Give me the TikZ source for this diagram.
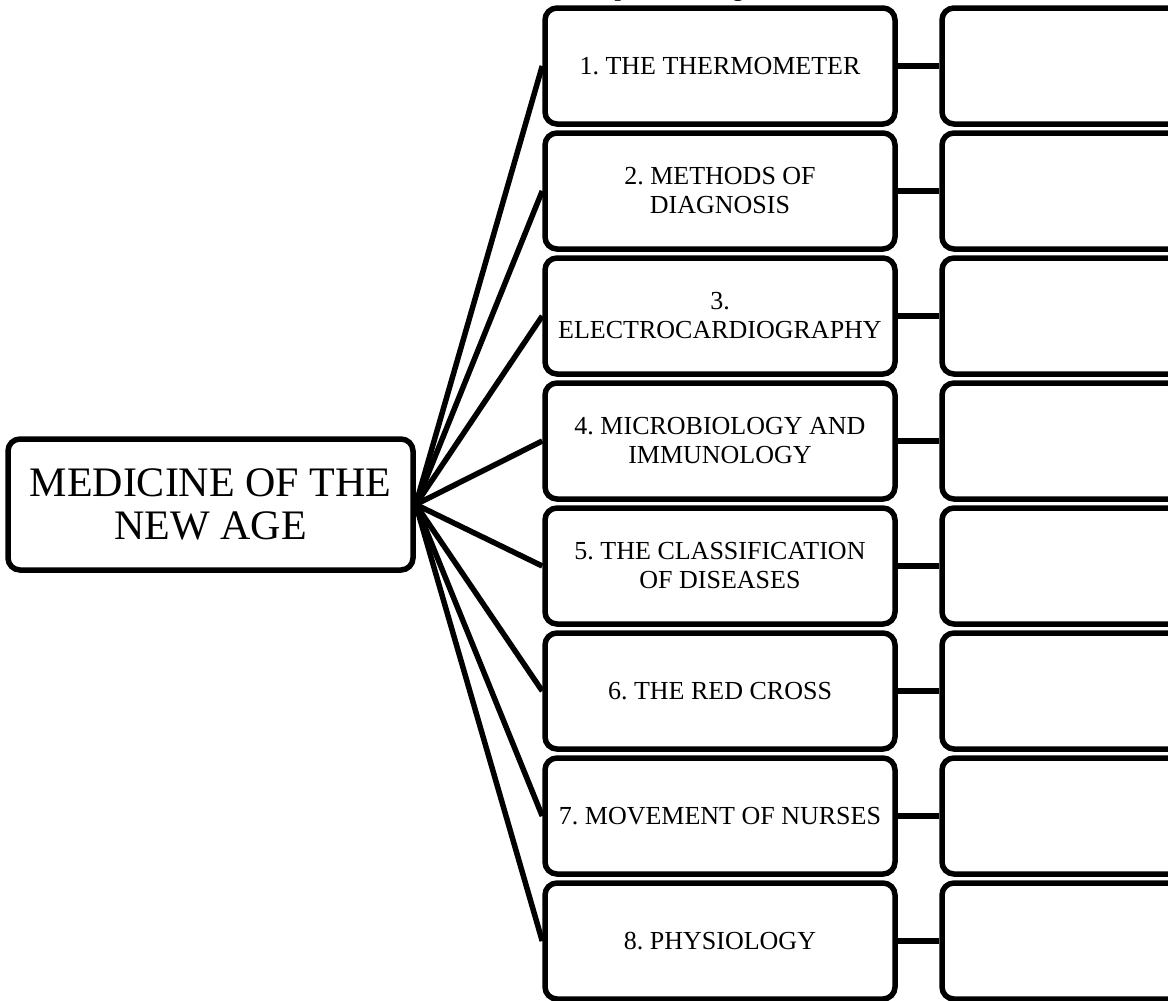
\documentclass[tikz,border=0pt]{standalone}
\usepackage{fontspec}
\setmainfont{Liberation Serif}
\frenchspacing
\begin{document}
\begin{tikzpicture}[x=1pt,y=-1pt,
  box/.style={draw, line width=5.5pt, rounded corners=12pt, inner sep=0pt, align=center},
  hubbox/.style={box, minimum width=405pt, minimum height=131pt,
    font=\fontsize{42}{43}\selectfont},
  topic/.style={box, minimum width=350pt, minimum height=116pt,
    font=\fontsize{26}{29}\selectfont},
  blank/.style={box, minimum width=360pt, minimum height=116pt},
  link/.style={line width=5.5pt}]
\useasboundingbox (0,0) rectangle (1168,1001);

% heading (sits mostly above the page edge)
\node[anchor=base west, inner sep=0pt, font=\bfseries\fontsize{22.6}{26}\selectfont]
  (title) at (568,-3.5) {Complete the diagram};

% central topic
\node[hubbox] (hub) at (210.5,504.5) {MEDICINE OF THE\\NEW AGE};

% sub-topics and their answer boxes
\foreach \i/\txt in {1/{1. THE THERMOMETER},
                     2/{2. METHODS OF\\DIAGNOSIS},
                     3/{3.\\ELECTROCARDIOGRAPHY},
                     4/{4. MICROBIOLOGY AND\\IMMUNOLOGY},
                     5/{5. THE CLASSIFICATION\\OF DISEASES},
                     6/{6. THE RED CROSS},
                     7/{7. MOVEMENT OF NURSES},
                     8/{8. PHYSIOLOGY}}{
  \pgfmathsetmacro{\yy}{66+125*(\i-1)}
  \node[topic] (t\i) at (720,\yy) {\txt};
  \node[blank] (r\i) at (1122,\yy) {};
  \draw[link] (hub.east) -- (t\i.west);
  \draw[link] (t\i.east) -- (r\i.west);
}
\end{tikzpicture}
\end{document}
